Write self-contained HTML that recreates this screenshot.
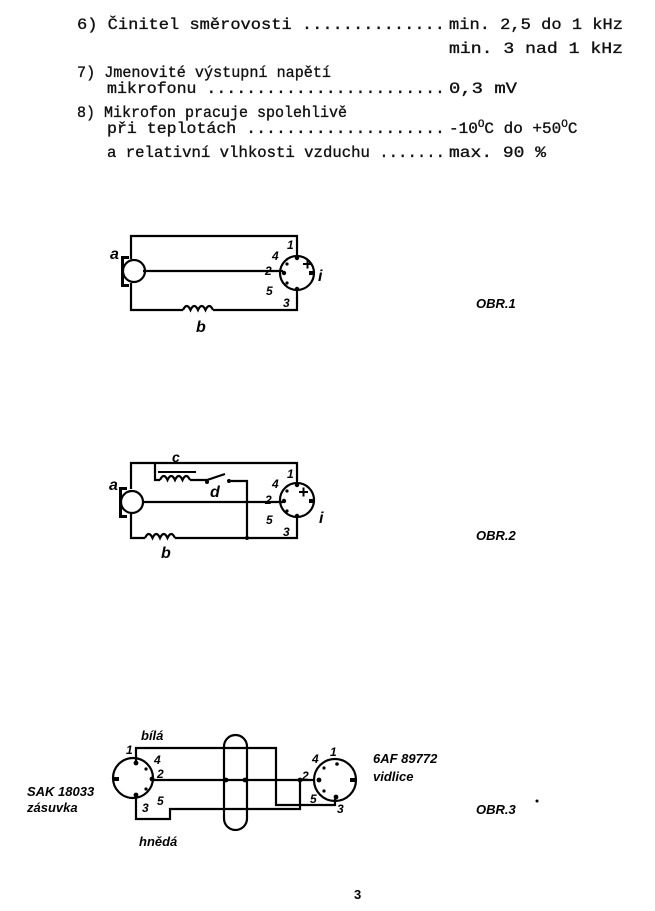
<!DOCTYPE html>
<html><head><meta charset="utf-8"><style>
html,body{margin:0;padding:0;background:#fff;}
svg{display:block;}
.m{font-family:"Liberation Mono",monospace;font-size:16px;fill:#111;stroke:#111;stroke-width:0.35;}
.h{font-family:"Liberation Sans",sans-serif;font-weight:bold;font-style:italic;fill:#000;}
.w{fill:none;stroke:#000;stroke-width:2.2;}
</style></head><body>
<svg width="655" height="911" viewBox="0 0 655 911" xmlns="http://www.w3.org/2000/svg">
<rect width="655" height="911" fill="#fff"/>
<text class="m" x="77" y="29" textLength="368" lengthAdjust="spacingAndGlyphs">6) Činitel směrovosti ..............</text>
<text class="m" x="449" y="29" textLength="174" lengthAdjust="spacingAndGlyphs">min. 2,5 do 1 kHz</text>
<text class="m" x="449" y="53" textLength="174" lengthAdjust="spacingAndGlyphs">min. 3  nad 1 kHz</text>
<text class="m" x="77" y="77" textLength="254" lengthAdjust="spacingAndGlyphs">7) Jmenovité výstupní napětí</text>
<text class="m" x="107" y="93" textLength="338" lengthAdjust="spacingAndGlyphs">mikrofonu ........................</text>
<text class="m" x="449" y="93" textLength="68" lengthAdjust="spacingAndGlyphs">0,3 mV</text>
<text class="m" x="77" y="117" textLength="270" lengthAdjust="spacingAndGlyphs">8) Mikrofon pracuje spolehlivě</text>
<text class="m" x="107" y="133" textLength="338" lengthAdjust="spacingAndGlyphs">při teplotách ....................</text>
<text class="m" x="449" y="133">-10<tspan dy="-6" font-size="11">O</tspan><tspan dy="6">C do +50</tspan><tspan dy="-6" font-size="11">O</tspan><tspan dy="6">C</tspan></text>
<text class="m" x="107" y="157" textLength="338" lengthAdjust="spacingAndGlyphs">a relativní vlhkosti vzduchu .......</text>
<text class="m" x="449" y="157" textLength="97" lengthAdjust="spacingAndGlyphs">max. 90 %</text>

<g>
<path class="w" d="M131 259 V236 H297 V256 M143 271 H283 M131 283 V310 H183 M213 310 H297 V290"/>
<path class="w" d="M183 310 q3.75 -8 7.5 0 q3.75 -8 7.5 0 q3.75 -8 7.5 0 q3.75 -8 7.5 0"/>
<circle class="w" cx="134" cy="271" r="11"/>
<path d="M121 256 h8 v3 h-5 v25 h5 v3 h-8z" fill="#000"/>
<circle class="w" cx="297" cy="273" r="17"/>
<circle cx="297" cy="258" r="2.2"/><circle cx="284" cy="273" r="2.2"/><circle cx="297" cy="289" r="2.2"/>
<circle cx="287" cy="264" r="1.6"/><circle cx="287" cy="283" r="1.6"/>
<rect x="309" y="271" width="5" height="4"/>
<path d="M303 264 h9 M307.5 259.5 v9" stroke="#000" stroke-width="2"/>
<text class="h" x="110" y="259" font-size="16">a</text>
<text class="h" x="287" y="249" font-size="12">1</text>
<text class="h" x="272" y="260" font-size="12">4</text>
<text class="h" x="265" y="275" font-size="12">2</text>
<text class="h" x="266" y="295" font-size="12">5</text>
<text class="h" x="283" y="307" font-size="12">3</text>
<text class="h" x="318" y="281" font-size="16">i</text>
<text class="h" x="196" y="332" font-size="16">b</text>
<text class="h" x="476" y="308" font-size="13">OBR.1</text>
</g>

<g>
<path class="w" d="M131 489 V463 H297 V483 M143 502 H283 M131 514 V538 H145 M175 538 H297 V518"/>
<path class="w" d="M145 538 q3.75 -8 7.5 0 q3.75 -8 7.5 0 q3.75 -8 7.5 0 q3.75 -8 7.5 0"/>
<path class="w" d="M155 463 V480 H160 M190 480 H207 L225 474 M229 481 H247 V538"/>
<path class="w" d="M160 480 q3.75 -8 7.5 0 q3.75 -8 7.5 0 q3.75 -8 7.5 0 q3.75 -8 7.5 0"/>
<path d="M158 472 h38" stroke="#000" stroke-width="2"/>
<circle cx="207" cy="482" r="2"/><circle cx="229" cy="481" r="2"/><circle cx="247" cy="538" r="2"/>
<circle class="w" cx="132" cy="502" r="11"/>
<path d="M119 487 h8 v3 h-5 v25 h5 v3 h-8z" fill="#000"/>
<circle class="w" cx="297" cy="500" r="17"/>
<circle cx="297" cy="485" r="2.2"/><circle cx="284" cy="501" r="2.2"/><circle cx="297" cy="516" r="2.2"/>
<circle cx="287" cy="491" r="1.6"/><circle cx="287" cy="511" r="1.6"/>
<rect x="309" y="499" width="6" height="4"/>
<path d="M299 492 h9 M303.5 487.5 v9" stroke="#000" stroke-width="2"/>
<text class="h" x="109" y="490" font-size="16">a</text>
<text class="h" x="287" y="478" font-size="12">1</text>
<text class="h" x="272" y="488" font-size="12">4</text>
<text class="h" x="265" y="504" font-size="12">2</text>
<text class="h" x="266" y="524" font-size="12">5</text>
<text class="h" x="283" y="536" font-size="12">3</text>
<text class="h" x="319" y="523" font-size="16">i</text>
<text class="h" x="172" y="462" font-size="14">c</text>
<text class="h" x="210" y="497" font-size="16">d</text>
<text class="h" x="161" y="558" font-size="16">b</text>
<text class="h" x="476" y="540" font-size="13">OBR.2</text>
</g>

<g>
<path class="w" d="M136 762 V748 H276 V805 H335 V799 M153 780 H314 M136 796 V819 H170 V809 H300 V780"/>
<rect class="w" x="224" y="735" width="23" height="95" rx="11.5"/>
<circle cx="226" cy="780" r="2.4"/><circle cx="245" cy="780" r="2.4"/><circle cx="300" cy="780" r="2.4"/>
<circle class="w" cx="133" cy="778" r="20"/>
<circle cx="136" cy="763" r="2.4"/><circle cx="152" cy="779" r="2.4"/><circle cx="136" cy="795" r="2.4"/>
<circle cx="146" cy="769" r="1.6"/><circle cx="146" cy="789" r="1.6"/>
<rect x="114" y="777" width="5" height="4"/>
<circle class="w" cx="335" cy="780" r="21"/>
<circle cx="337" cy="764" r="1.8"/><circle cx="319" cy="780" r="2.4"/><circle cx="336" cy="797" r="2.4"/>
<circle cx="324" cy="768" r="1.6"/><circle cx="324" cy="791" r="1.6"/>
<rect x="350" y="778" width="7" height="4"/>
<text class="h" x="126" y="754" font-size="12">1</text>
<text class="h" x="154" y="764" font-size="12">4</text>
<text class="h" x="157" y="778" font-size="12">2</text>
<text class="h" x="157" y="805" font-size="12">5</text>
<text class="h" x="142" y="812" font-size="12">3</text>
<text class="h" x="312" y="763" font-size="12">4</text>
<text class="h" x="330" y="756" font-size="12">1</text>
<text class="h" x="302" y="780" font-size="12">2</text>
<text class="h" x="310" y="803" font-size="12">5</text>
<text class="h" x="337" y="813" font-size="12">3</text>
<text class="h" x="141" y="740" font-size="13">bílá</text>
<text class="h" x="139" y="846" font-size="13">hnědá</text>
<text class="h" x="27" y="796" font-size="13">SAK 18033</text>
<text class="h" x="27" y="812" font-size="13">zásuvka</text>
<text class="h" x="373" y="763" font-size="13">6AF 89772</text>
<text class="h" x="373" y="781" font-size="13">vidlice</text>
<text class="h" x="476" y="814" font-size="13">OBR.3</text>
<circle cx="537" cy="801" r="1.5"/>
</g>
<text x="354" y="899" font-family="Liberation Sans,sans-serif" font-weight="bold" font-size="13">3</text>
</svg>
</body></html>
